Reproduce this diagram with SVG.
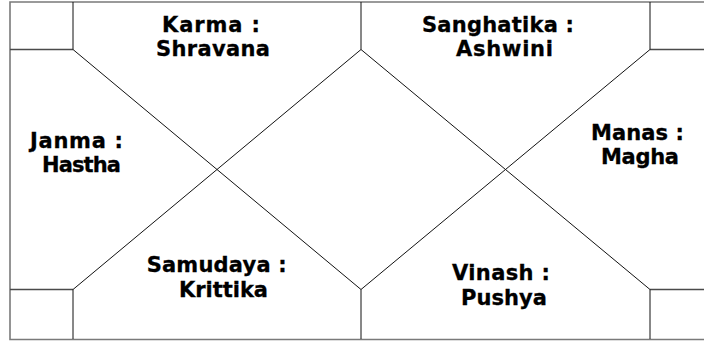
<svg xmlns="http://www.w3.org/2000/svg" width="704" height="341" viewBox="0 0 704 341">
<style>
.frame{fill:none;stroke:#7a7a7a;stroke-width:1.6}
.edge{fill:none;stroke:#4a4a4a;stroke-width:1.5}
.ln{fill:none;stroke:#111;stroke-width:1}
.lbl{font-family:"DejaVu Sans",Verdana,sans-serif;font-weight:bold;font-size:21px;fill:#000;stroke:#000;stroke-width:0.3;text-anchor:middle}
</style>
<rect width="704" height="341" fill="#fff"/>
<g id="frame">
<path class="frame" d="M710,2 H10 V339.5 H710"/>
</g>
<g id="connectors">
<path class="edge" d="M10,49.5 H73 M650,49.5 H706 M10,289.5 H73 M650,289.5 H706"/>
<path class="ln" d="M73,2 V49.5 M650,2 V49.5 M73,289.5 V339 M650,289.5 V339 M361,2 V49.5 M361,289.5 V339"/>
<path class="ln" d="M73,49.5 L361,289.5 L650,49.5 M73,289.5 L361,49.5 L650,289.5"/>
</g>
<g id="karma"><text class="lbl" x="211" y="32" textLength="98" lengthAdjust="spacing">Karma :</text><text class="lbl" x="213" y="56" textLength="114" lengthAdjust="spacing">Shravana</text></g>
<g id="sanghatika"><text class="lbl" x="498" y="32" textLength="152" lengthAdjust="spacing">Sanghatika :</text><text class="lbl" x="504.5" y="56" textLength="97" lengthAdjust="spacing">Ashwini</text></g>
<g id="janma"><text class="lbl" x="76.5" y="148" textLength="93" lengthAdjust="spacing">Janma :</text><text class="lbl" x="81.5" y="172" textLength="79" lengthAdjust="spacing">Hastha</text></g>
<g id="manas"><text class="lbl" x="637.5" y="140" textLength="93" lengthAdjust="spacing">Manas :</text><text class="lbl" x="640" y="164" textLength="78" lengthAdjust="spacing">Magha</text></g>
<g id="samudaya"><text class="lbl" x="216.7" y="272" textLength="140" lengthAdjust="spacing">Samudaya :</text><text class="lbl" x="223.5" y="297" textLength="89" lengthAdjust="spacing">Krittika</text></g>
<g id="vinash"><text class="lbl" x="501" y="280" textLength="98" lengthAdjust="spacing">Vinash :</text><text class="lbl" x="504" y="305" textLength="86" lengthAdjust="spacing">Pushya</text></g>
</svg>
